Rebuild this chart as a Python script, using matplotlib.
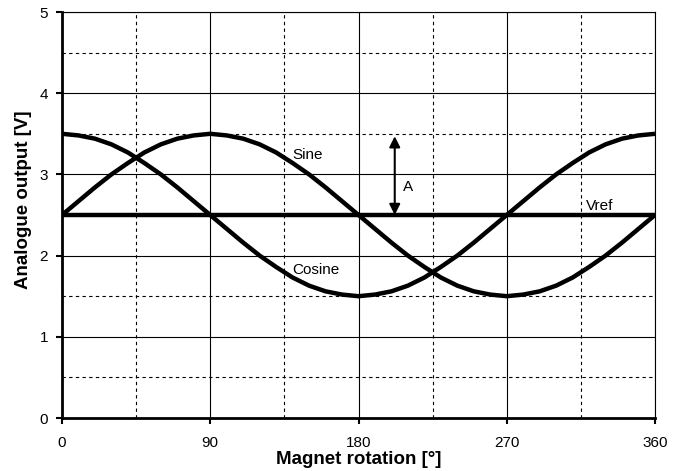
import matplotlib
matplotlib.use("Agg")
import matplotlib.pyplot as plt
from matplotlib.ticker import MultipleLocator

plt.rcParams['font.family'] = ['Liberation Sans', 'DejaVu Sans']

# magnet angle in degrees (10 degree steps)
angle = [0, 10, 20, 30, 40, 50, 60, 70, 80, 90, 100, 110, 120, 130, 140, 150, 160, 170, 180,
         190, 200, 210, 220, 230, 240, 250, 260, 270, 280, 290, 300, 310, 320, 330, 340, 350, 360]

sine = [2.50, 2.67, 2.84, 3.00, 3.14, 3.27, 3.37, 3.44, 3.48, 3.50, 3.48, 3.44, 3.37, 3.27, 3.14,
        3.00, 2.84, 2.67, 2.50, 2.33, 2.16, 2.00, 1.86, 1.73, 1.63, 1.56, 1.52, 1.50, 1.52, 1.56,
        1.63, 1.73, 1.86, 2.00, 2.16, 2.33, 2.50]

cosine = [3.50, 3.48, 3.44, 3.37, 3.27, 3.14, 3.00, 2.84, 2.67, 2.50, 2.33, 2.16, 2.00, 1.86, 1.73,
          1.63, 1.56, 1.52, 1.50, 1.52, 1.56, 1.63, 1.73, 1.86, 2.00, 2.16, 2.33, 2.50, 2.67, 2.84,
          3.00, 3.14, 3.27, 3.37, 3.44, 3.48, 3.50]

vref = 2.5
amp_x = 202  # where the amplitude arrow sits

fig = plt.figure(figsize=(6.82, 4.71), dpi=100)
ax = fig.add_axes([62 / 682, 53 / 471, 593 / 682, 406 / 471])

ax.set_xlim(0, 360)
ax.set_ylim(0, 5)
ax.xaxis.set_major_locator(MultipleLocator(90))
ax.xaxis.set_minor_locator(MultipleLocator(45))
ax.yaxis.set_major_locator(MultipleLocator(1))
ax.yaxis.set_minor_locator(MultipleLocator(0.5))

# grid: solid majors, dashed minors
ax.grid(which='major', color='black', linewidth=0.8)
ax.grid(which='minor', color='black', linewidth=0.8, linestyle=(0, (3, 3)))
ax.set_axisbelow(True)

ax.plot(angle, sine, color='black', linewidth=3.2, solid_capstyle='butt')
ax.plot(angle, cosine, color='black', linewidth=3.2, solid_capstyle='butt')
ax.axhline(vref, color='black', linewidth=3.2)

ax.annotate('', xy=(amp_x, 3.47), xytext=(amp_x, vref),
            arrowprops=dict(arrowstyle='<|-|>', color='black', lw=1.5,
                            mutation_scale=16, shrinkA=0, shrinkB=0))

ax.text(140, 3.24, 'Sine', fontsize=11, va='center', ha='left')
ax.text(140, 1.82, 'Cosine', fontsize=11, va='center', ha='left')
ax.text(207, 2.85, 'A', fontsize=11, va='center', ha='left')
ax.text(318, 2.61, 'Vref', fontsize=11, va='center', ha='left')

for side in ['left', 'bottom']:
    ax.spines[side].set_linewidth(2)
for side in ['top', 'right']:
    ax.spines[side].set_linewidth(0.8)

ax.tick_params(which='major', direction='out', length=4, width=1.5, labelsize=11)
ax.tick_params(axis='x', which='major', pad=9)
ax.tick_params(axis='y', which='major', pad=6)
ax.tick_params(which='minor', length=0)

ax.set_xlabel('Magnet rotation [°]', fontsize=13.5, fontweight='bold', va='center')
ax.set_ylabel('Analogue output [V]', fontsize=13.5, fontweight='bold', va='center')
ax.xaxis.set_label_coords(0.5, -(459 - 418) / 406)
ax.yaxis.set_label_coords((24 - 62) / 593, (418 - 200) / 406)

fig.savefig('out.png', dpi=100)
